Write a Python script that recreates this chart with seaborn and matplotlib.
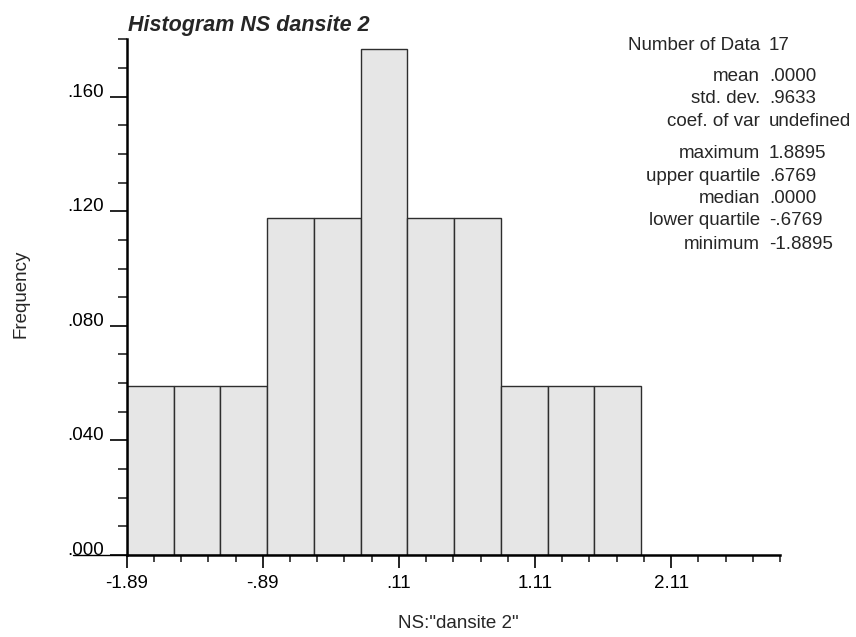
import numpy as np
import pandas as pd
import matplotlib
matplotlib.use("Agg")
import matplotlib.pyplot as plt
import seaborn as sns
from matplotlib.ticker import FixedLocator, MultipleLocator

# Histogram of 17 normal scores: counts per class and summary statistics
n_data = 17
bin_counts = [1, 1, 1, 2, 2, 3, 2, 2, 1, 1, 1]
data_min, data_max = -1.8895, 1.8895

stat_names = ["mean", "std. dev.", "coef. of var",
              "maximum", "upper quartile", "median", "lower quartile", "minimum"]
stat_values = [".0000", ".9633", "undefined",
               "1.8895", ".6769", ".0000", "-.6769", "-1.8895"]

x_ticks = [-1.89, -0.89, 0.11, 1.11, 2.11]
x_ticklabels = ["-1.89", "-.89", ".11", "1.11", "2.11"]
y_ticks = [0.0, 0.04, 0.08, 0.12, 0.16]
y_ticklabels = [".000", ".040", ".080", ".120", ".160"]

edges = np.linspace(data_min, data_max, len(bin_counts) + 1)
hist_df = pd.DataFrame({
    "ns": (edges[:-1] + edges[1:]) / 2,
    "freq": np.array(bin_counts, dtype=float) / n_data,
})

sns.set_style("ticks")
plt.rcParams["font.family"] = ["Liberation Sans", "DejaVu Sans"]
FS = 13.5

W, H = 856, 637
fig = plt.figure(figsize=(W / 100, H / 100), dpi=100)
ax_l, ax_r, ax_b, ax_t = 126.7, 780, 555, 39.3
ax = fig.add_axes([ax_l / W, 1 - ax_b / H, (ax_r - ax_l) / W, (ax_b - ax_t) / H])

sns.histplot(data=hist_df, x="ns", weights="freq", bins=list(edges), stat="count",
             color="#e6e6e6", edgecolor="#2e2e2e", linewidth=1.0, alpha=1.0, ax=ax)

ax.set_xlim(-1.89, 2.91)
ax.set_ylim(0, 0.18)
ax.set_xlabel("")
ax.set_ylabel("")

ax.set_xticks(x_ticks, x_ticklabels, fontsize=FS)
ax.set_yticks(y_ticks, y_ticklabels, fontsize=FS)
ax.xaxis.set_minor_locator(FixedLocator(np.arange(-1.89, 2.92, 0.2)))
ax.yaxis.set_minor_locator(MultipleLocator(0.01))

for lbl in ax.get_yticklabels():
    lbl.set_verticalalignment("baseline")

ax.tick_params(axis="y", which="major", length=12.5, width=1.2, direction="out", pad=4, colors="black")
ax.tick_params(axis="y", which="minor", length=6.5, width=1.2, direction="out")
ax.tick_params(axis="x", which="major", length=9.5, width=1.2, direction="out", pad=5, colors="black")
ax.tick_params(axis="x", which="minor", length=5, width=1.2, direction="out")

sns.despine(ax=ax)
for side in ("left", "bottom"):
    ax.spines[side].set_linewidth(1.8)
    ax.spines[side].set_color("black")

# baseline rule running under the zero label
ax.plot([-0.082, 0], [0, 0], transform=ax.transAxes, color="black",
        linewidth=1.0, clip_on=False)

fig.text(127.7 / W, 1 - 30.5 / H, "Histogram NS dansite 2", fontsize=15.5,
         fontweight="bold", style="italic", ha="left", va="baseline")
fig.text(21 / W, 1 - 294 / H, "Frequency", rotation=90, fontsize=FS,
         ha="center", va="center")
fig.text(458 / W, 1 - 624 / H, 'NS:"dansite 2"', fontsize=FS,
         ha="center", va="center")

# summary statistics block
lab_x, val_x = 760 / W, 769 / W
fig.text(lab_x, 1 - 46 / H, "Number of Data", fontsize=FS, ha="right", va="center")
fig.text(val_x, 1 - 46 / H, str(n_data), fontsize=FS, ha="left", va="center")
row_y = [76.7, 98.3, 121.7, 153.3, 176.7, 198.3, 220.7, 244.3]
for name, val, y in zip(stat_names, stat_values, row_y):
    fig.text(lab_x, 1 - y / H, name, fontsize=FS, ha="right", va="center")
    fig.text(val_x, 1 - y / H, val, fontsize=FS, ha="left", va="center")

fig.savefig("out.png", dpi=100)
